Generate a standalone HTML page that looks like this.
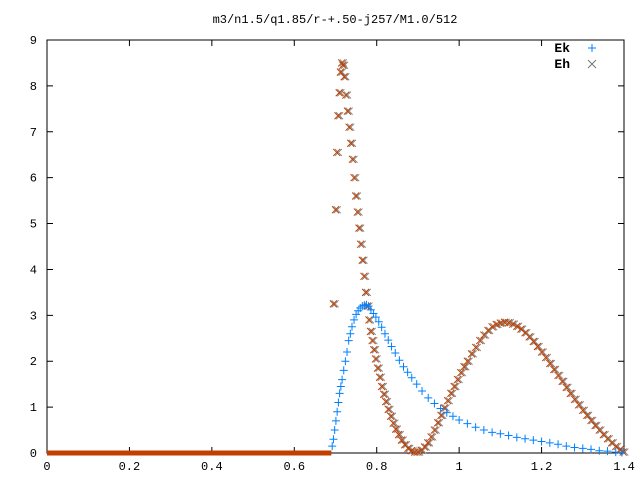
<!DOCTYPE html>
<html><head><meta charset="utf-8"><style>
body{margin:0;background:#fff}
svg{display:block;font-family:"Liberation Mono","DejaVu Sans Mono",monospace}
</style></head><body>
<svg id="c" width="640" height="480">
<text x="335" y="23" text-anchor="middle" font-size="12">m3/n1.5/q1.85/r-+.50-j257/M1.0/512</text>
<rect x="47" y="40" width="577" height="413" fill="none" stroke="#000"/>
<g id="axes"></g><g id="marks"></g>
<g>
<text x="570" y="52" font-size="13" font-weight="bold" text-anchor="end">Ek</text>
<text x="570" y="68" font-size="13" font-weight="bold" text-anchor="end">Eh</text>
<path d="M588,48h8M592,44v8" stroke="#0080ff"/>
<path d="M588,60l8,8M596,60l-8,8" stroke="#777"/>
</g>
</svg>
<script>
const xTicks=[0,0.2,0.4,0.6,0.8,1,1.2,1.4];
const xTickLabels=["0","0.2","0.4","0.6","0.8","1","1.2","1.4"];
const yTicks=[0,1,2,3,4,5,6,7,8,9];
const ekX=[0.692,0.695,0.698,0.701,0.704,0.707,0.710,0.713,0.716,0.720,0.724,0.728,0.732,0.736,0.740,0.745,0.750,0.755,0.760,0.765,0.770,0.775,0.780,0.786,0.792,0.798,0.805,0.812,0.820,0.828,0.836,0.845,0.855,0.865,0.875,0.885,0.897,0.910,0.925,0.940,0.955,0.970,0.985,1.000,1.020,1.040,1.060,1.080,1.100,1.120,1.140,1.160,1.180,1.200,1.220,1.240,1.260,1.280,1.300,1.320,1.340,1.360,1.380,1.395];
const ekY=[0.15,0.3,0.5,0.7,0.9,1.1,1.3,1.45,1.6,1.8,2.0,2.2,2.45,2.6,2.75,2.9,3.02,3.1,3.16,3.2,3.22,3.23,3.2,3.12,3.04,2.96,2.86,2.74,2.6,2.46,2.32,2.18,2.02,1.88,1.76,1.64,1.5,1.35,1.2,1.08,0.97,0.88,0.8,0.72,0.64,0.56,0.5,0.45,0.42,0.38,0.34,0.31,0.28,0.25,0.22,0.19,0.15,0.12,0.1,0.08,0.05,0.04,0.02,0.01];
const ehX=[0.695,0.700,0.703,0.706,0.709,0.712,0.715,0.718,0.721,0.725,0.729,0.733,0.737,0.741,0.745,0.749,0.753,0.757,0.761,0.765,0.769,0.773,0.777,0.781,0.785,0.789,0.793,0.797,0.802,0.807,0.812,0.817,0.822,0.828,0.834,0.840,0.846,0.853,0.860,0.868,0.876,0.884,0.892,0.900,0.908,0.916,0.924,0.932,0.940,0.948,0.956,0.964,0.972,0.980,0.988,0.996,1.004,1.012,1.020,1.030,1.040,1.050,1.060,1.070,1.080,1.090,1.100,1.110,1.120,1.130,1.140,1.150,1.160,1.170,1.180,1.190,1.200,1.210,1.220,1.230,1.240,1.250,1.260,1.270,1.280,1.290,1.300,1.310,1.320,1.330,1.340,1.350,1.360,1.370,1.380,1.390,1.398];
const ehY=[3.25,5.3,6.55,7.35,7.85,8.3,8.5,8.45,8.2,7.8,7.45,7.1,6.75,6.4,6.0,5.6,5.25,4.9,4.55,4.2,3.85,3.5,3.2,2.9,2.65,2.45,2.25,2.05,1.85,1.65,1.45,1.28,1.12,0.95,0.8,0.65,0.52,0.4,0.28,0.18,0.1,0.05,0.02,0.02,0.06,0.13,0.22,0.35,0.5,0.66,0.82,0.98,1.14,1.3,1.45,1.6,1.75,1.88,2.0,2.16,2.3,2.45,2.57,2.67,2.75,2.8,2.83,2.85,2.84,2.81,2.76,2.7,2.62,2.53,2.43,2.32,2.2,2.08,1.95,1.82,1.69,1.56,1.43,1.3,1.17,1.05,0.93,0.82,0.71,0.6,0.5,0.4,0.31,0.22,0.14,0.07,0.02];
const zeroX=[0,0.69];
const ns="http://www.w3.org/2000/svg";
const L=47,R=624,T=40,B=453;
const sx=v=>L+(v-0)/(1.4)*(R-L);
const sy=v=>B-(v/9)*(B-T);
const axes=document.getElementById('axes'),marks=document.getElementById('marks');
function mk(tag,attrs,parent){const e=document.createElementNS(ns,tag);for(const k in attrs)e.setAttribute(k,attrs[k]);parent.appendChild(e);return e;}
xTicks.forEach((v,i)=>{
 const x=sx(v);
 const t=mk('path',{d:`M${x},${B}v-6M${x},${T}v6`,stroke:'#000'},axes);
 
 
 const l=mk('text',{x:x,y:B+17,'text-anchor':'middle','font-size':'12'},axes);
 l.textContent=xTickLabels[i];
 
 
});
yTicks.forEach(v=>{
 const y=sy(v);
 const t=mk('path',{d:`M${L},${y}h6M${R},${y}h-6`,stroke:'#000'},axes);
 
 
 const l=mk('text',{x:L-10,y:y+4,'text-anchor':'end','font-size':'12'},axes);
 l.textContent=String(v);
 
 
});
const zl=mk('path',{d:`M${sx(zeroX[0])},${sy(0)}H${sx(zeroX[1])}`,stroke:'#c04000','stroke-width':'5'},marks);


function cross(x,y,col,name){
 const p=mk('path',{d:`M${x-3.5},${y-3.5}l7,7M${x+3.5},${y-3.5}l-7,7`,stroke:col},marks);
 
 
}
ehX.forEach((v,i)=>cross(sx(v+0.004),sy(ehY[i]),'#888','eh-point-gray'));
ehX.forEach((v,i)=>cross(sx(v),sy(ehY[i]),'#c04000','eh-point'));
ekX.forEach((v,i)=>{
 const x=sx(v),y=sy(ekY[i]);
 const p=mk('path',{d:`M${x-4},${y}h8M${x},${y-4}v8`,stroke:'#0080ff'},marks);
 
 
});
</script>
</body></html>
